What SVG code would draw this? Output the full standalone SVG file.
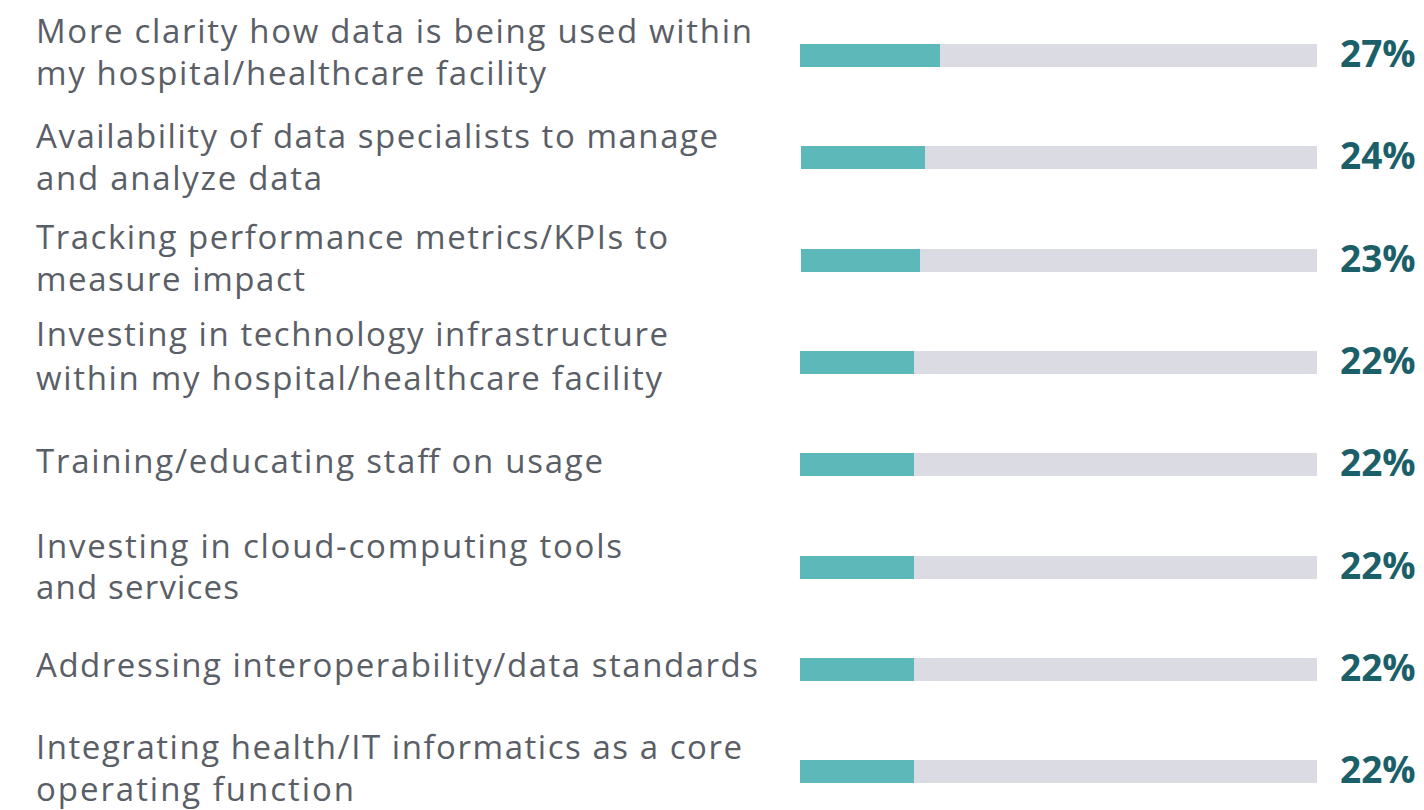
<svg xmlns="http://www.w3.org/2000/svg" width="1424" height="810" viewBox="0 0 1424 810">
<style>
.lbl{font-family:"Open Sans","Liberation Sans",sans-serif;font-size:33px;fill:#5a5e66}
.pct{font-family:"Open Sans","Liberation Sans",sans-serif;font-size:37px;font-weight:bold;fill:#1b6068}
.bg{fill:#dbdbe4}
.fg{fill:#5cb8b9}
</style>
<rect width="1424" height="810" fill="#ffffff"/>
<g id="row1">
<text class="lbl" x="36" y="43" textLength="716" lengthAdjust="spacing">More clarity how data is being used within</text>
<text class="lbl" x="36" y="85" textLength="510" lengthAdjust="spacing">my hospital/healthcare facility</text>
<rect class="bg" x="800" y="44" width="517" height="23"/>
<rect class="fg" x="800" y="44" width="140" height="23"/>
<text class="pct" x="1340" y="67">27%</text>
</g>
<g id="row2">
<text class="lbl" x="36" y="148" textLength="682" lengthAdjust="spacing">Availability of data specialists to manage</text>
<text class="lbl" x="36" y="190" textLength="286" lengthAdjust="spacing">and analyze data</text>
<rect class="bg" x="801" y="146" width="516" height="23"/>
<rect class="fg" x="801" y="146" width="124" height="23"/>
<text class="pct" x="1340" y="169">24%</text>
</g>
<g id="row3">
<text class="lbl" x="36" y="249" textLength="632" lengthAdjust="spacing">Tracking performance metrics/KPIs to</text>
<text class="lbl" x="36" y="291" textLength="269" lengthAdjust="spacing">measure impact</text>
<rect class="bg" x="801" y="249" width="516" height="23"/>
<rect class="fg" x="801" y="249" width="119" height="23"/>
<text class="pct" x="1340" y="272">23%</text>
</g>
<g id="row4">
<text class="lbl" x="36" y="346" textLength="632" lengthAdjust="spacing">Investing in technology infrastructure</text>
<text class="lbl" x="36" y="390" textLength="626" lengthAdjust="spacing">within my hospital/healthcare facility</text>
<rect class="bg" x="800" y="351" width="517" height="23"/>
<rect class="fg" x="800" y="351" width="114" height="23"/>
<text class="pct" x="1340" y="374">22%</text>
</g>
<g id="row5">
<text class="lbl" x="36" y="473" textLength="567" lengthAdjust="spacing">Training/educating staff on usage</text>
<rect class="bg" x="800" y="453" width="517" height="23"/>
<rect class="fg" x="800" y="453" width="114" height="23"/>
<text class="pct" x="1340" y="476">22%</text>
</g>
<g id="row6">
<text class="lbl" x="36" y="558" textLength="586" lengthAdjust="spacing">Investing in cloud-computing tools</text>
<text class="lbl" x="36" y="599" textLength="203" lengthAdjust="spacing">and services</text>
<rect class="bg" x="800" y="556" width="517" height="23"/>
<rect class="fg" x="800" y="556" width="114" height="23"/>
<text class="pct" x="1340" y="579">22%</text>
</g>
<g id="row7">
<text class="lbl" x="36" y="677" textLength="722" lengthAdjust="spacing">Addressing interoperability/data standards</text>
<rect class="bg" x="800" y="658" width="517" height="23"/>
<rect class="fg" x="800" y="658" width="114" height="23"/>
<text class="pct" x="1340" y="681">22%</text>
</g>
<g id="row8">
<text class="lbl" x="36" y="759" textLength="706" lengthAdjust="spacing">Integrating health/IT informatics as a core</text>
<text class="lbl" x="36" y="801" textLength="318" lengthAdjust="spacing">operating function</text>
<rect class="bg" x="800" y="760" width="517" height="23"/>
<rect class="fg" x="800" y="760" width="114" height="23"/>
<text class="pct" x="1340" y="783">22%</text>
</g>
<g id="connectors"/>
</svg>
